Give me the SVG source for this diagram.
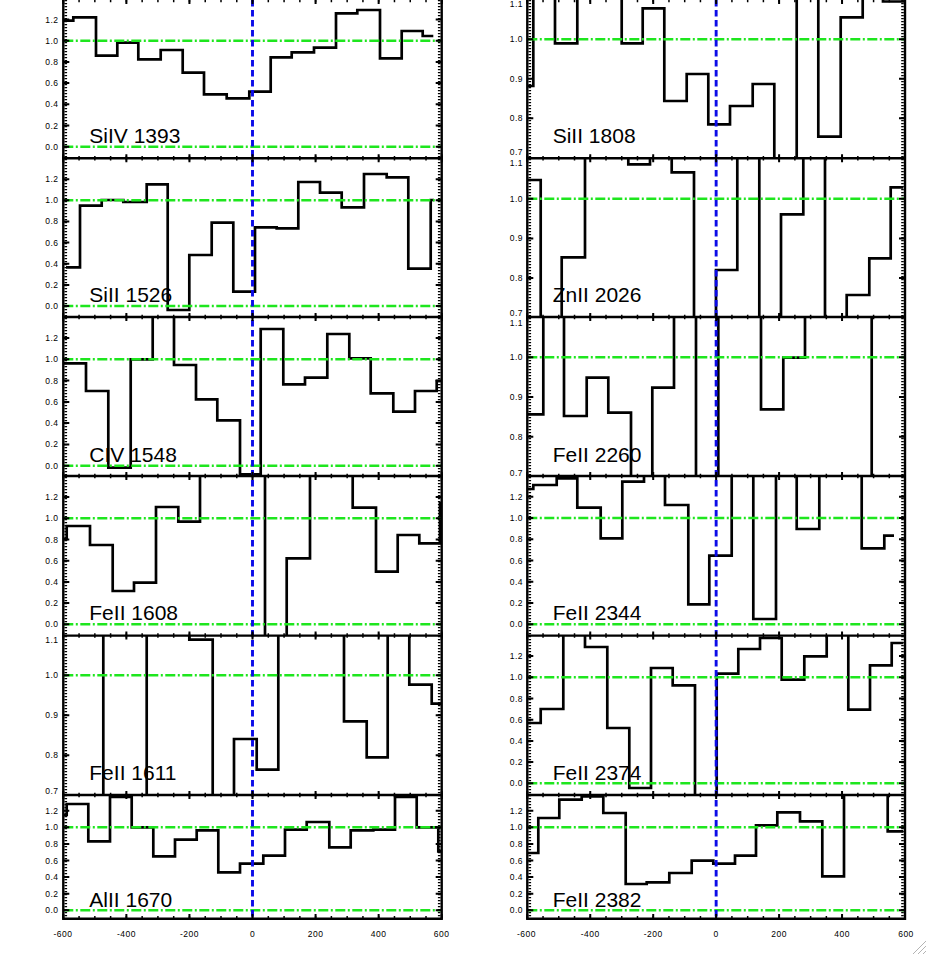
<svg xmlns="http://www.w3.org/2000/svg" width="927" height="955" viewBox="0 0 927 955">
<style>
.step{fill:none;stroke:#000;stroke-width:2.7}
.g{stroke:#1ee61e;stroke-width:2.5;stroke-dasharray:10 2.5 2 2.5}
.b{stroke:#0c0ce8;stroke-width:2.9;stroke-dasharray:6.5 3.5}
.fr{stroke:#000;stroke-width:2.4;fill:none}
.mj{stroke:#000;stroke-width:2;fill:none}
.lab{font-family:"Liberation Sans",Arial,Helvetica,sans-serif;font-size:21px;fill:#000}
.tl{font-family:"Liberation Sans",Arial,Helvetica,sans-serif;font-size:8.5px;text-anchor:end;letter-spacing:0.5px;fill:#000}
.xl{font-family:"Liberation Sans",Arial,Helvetica,sans-serif;font-size:8.5px;text-anchor:middle;letter-spacing:0.5px;fill:#000}
.lM{stroke:#000;stroke-width:8;stroke-dasharray:2 61.07}
.lm{stroke:#000;stroke-width:4.5;stroke-dasharray:1.5 14.27}
.rM{stroke:#000;stroke-width:8;stroke-dasharray:2 60.95}
.rm{stroke:#000;stroke-width:4.5;stroke-dasharray:1.5 14.24}
.ym{stroke:#000;stroke-width:2.6;stroke-dasharray:1.2 1.8}
</style>
<defs>
<clipPath id="cL1"><rect x="63.3" y="-5" width="378.4" height="163.3"/></clipPath>
<clipPath id="cL2"><rect x="63.3" y="158.3" width="378.4" height="158.7"/></clipPath>
<clipPath id="cL3"><rect x="63.3" y="317" width="378.4" height="159"/></clipPath>
<clipPath id="cL4"><rect x="63.3" y="476" width="378.4" height="159.6"/></clipPath>
<clipPath id="cL5"><rect x="63.3" y="635.6" width="378.4" height="159.4"/></clipPath>
<clipPath id="cL6"><rect x="63.3" y="795" width="378.4" height="123.8"/></clipPath>
<clipPath id="cR1"><rect x="527.3" y="-5" width="377.7" height="163.3"/></clipPath>
<clipPath id="cR2"><rect x="527.3" y="158.3" width="377.7" height="158.7"/></clipPath>
<clipPath id="cR3"><rect x="527.3" y="317" width="377.7" height="159"/></clipPath>
<clipPath id="cR4"><rect x="527.3" y="476" width="377.7" height="159.6"/></clipPath>
<clipPath id="cR5"><rect x="527.3" y="635.6" width="377.7" height="159.4"/></clipPath>
<clipPath id="cR6"><rect x="527.3" y="795" width="377.7" height="123.8"/></clipPath>
</defs>
<rect x="0" y="0" width="927" height="955" fill="#fff"/>

<g id="panel-SiIV-1393">
<path class="step" clip-path="url(#cL1)" d="M63.3,20.7 H73.3 V17.3 H96 V55.7 H117.3 V42.7 H138.3 V59.3 H160.7 V50 H182.7 V72.7 H204 V94.3 H226.7 V98.3 H249.3 V91.7 H270.7 V57.3 H291.7 V52.3 H314 V47.7 H336 V13.3 H357.3 V10 H380 V58.3 H401.7 V31 H422.7 V36 H433.3"/>
<text class="lab" x="89.3" y="143.3">SiIV 1393</text>
<line class="g" x1="63.3" y1="40.7" x2="441.7" y2="40.7"/>
<line class="g" x1="63.3" y1="146.7" x2="441.7" y2="146.7"/>
<path class="mj" d="M63.3,146.7h6M63.3,125.5h6M63.3,104.3h6M63.3,83.1h6M63.3,61.9h6M63.3,40.7h6M63.3,19.5h6M441.7,146.7h-6M441.7,125.5h-6M441.7,104.3h-6M441.7,83.1h-6M441.7,61.9h-6M441.7,40.7h-6M441.7,19.5h-6"/>
<text class="tl" x="58.5" y="149.7">0.0</text><text class="tl" x="58.5" y="128.5">0.2</text><text class="tl" x="58.5" y="107.3">0.4</text><text class="tl" x="58.5" y="86.1">0.6</text><text class="tl" x="58.5" y="64.9">0.8</text><text class="tl" x="58.5" y="43.7">1.0</text><text class="tl" x="58.5" y="22.5">1.2</text>
</g>

<g id="panel-SiII-1526">
<path class="step" clip-path="url(#cL2)" d="M66,267.3 H80 V205.7 H101.7 V200 H123.3 V202 H146.7 V184.3 H167.7 V310 H189.3 V255 H211.7 V222.7 H233.3 V291.7 H255 V227.3 H276.7 V228.3 H298.3 V182 H320 V192.7 H341.7 V207.3 H364 V174 H386.7 V177.3 H408.3 V268.7 H430.7 V200 H434"/>
<text class="lab" x="89.3" y="301.7">SiII 1526</text>
<line class="g" x1="63.3" y1="200.3" x2="441.7" y2="200.3"/>
<line class="g" x1="63.3" y1="306" x2="441.7" y2="306"/>
<path class="mj" d="M63.3,306h6M63.3,284.9h6M63.3,263.7h6M63.3,242.6h6M63.3,221.4h6M63.3,200.3h6M63.3,179.2h6M441.7,306h-6M441.7,284.9h-6M441.7,263.7h-6M441.7,242.6h-6M441.7,221.4h-6M441.7,200.3h-6M441.7,179.2h-6"/>
<text class="tl" x="58.5" y="309">0.0</text><text class="tl" x="58.5" y="287.9">0.2</text><text class="tl" x="58.5" y="266.7">0.4</text><text class="tl" x="58.5" y="245.6">0.6</text><text class="tl" x="58.5" y="224.4">0.8</text><text class="tl" x="58.5" y="203.3">1.0</text><text class="tl" x="58.5" y="182.2">1.2</text>
</g>

<g id="panel-CIV-1548">
<path class="step" clip-path="url(#cL3)" d="M63.3,363.3 H86 V391 H108.3 V467.7 H130.7 V359.3 H152.7 V300 H174 V365 H196 V399.3 H217.3 V420.3 H240 V474.3 H260.7 V329 H283.3 V384.3 H305 V377.7 H327.3 V334 H349.3 V358.3 H370.7 V393.3 H393.3 V411.7 H415 V391 H436.7 V381 H441.7"/>
<text class="lab" x="89.3" y="461.7">CIV 1548</text>
<line class="g" x1="63.3" y1="359.3" x2="441.7" y2="359.3"/>
<line class="g" x1="63.3" y1="465.7" x2="441.7" y2="465.7"/>
<path class="mj" d="M63.3,465.7h6M63.3,444.4h6M63.3,423.1h6M63.3,401.9h6M63.3,380.6h6M63.3,359.3h6M63.3,338h6M441.7,465.7h-6M441.7,444.4h-6M441.7,423.1h-6M441.7,401.9h-6M441.7,380.6h-6M441.7,359.3h-6M441.7,338h-6"/>
<text class="tl" x="58.5" y="468.7">0.0</text><text class="tl" x="58.5" y="447.4">0.2</text><text class="tl" x="58.5" y="426.1">0.4</text><text class="tl" x="58.5" y="404.9">0.6</text><text class="tl" x="58.5" y="383.6">0.8</text><text class="tl" x="58.5" y="362.3">1.0</text><text class="tl" x="58.5" y="341">1.2</text>
</g>

<g id="panel-FeII-1608">
<path class="step" clip-path="url(#cL4)" d="M63.3,539 H66.7 V526 H90 V545 H112.7 V591 H134 V582.7 H156 V507 H178.3 V521.7 H200 V450 H265 V660 H286.7 V558.3 H310 V450 H352.7 V507.7 H376 V571.7 H397.7 V535 H419.3 V543.3 H440 V502"/>
<text class="lab" x="89.3" y="620">FeII 1608</text>
<line class="g" x1="63.3" y1="518.3" x2="441.7" y2="518.3"/>
<line class="g" x1="63.3" y1="624.3" x2="441.7" y2="624.3"/>
<path class="mj" d="M63.3,624.3h6M63.3,603.1h6M63.3,581.9h6M63.3,560.7h6M63.3,539.5h6M63.3,518.3h6M63.3,497.1h6M441.7,624.3h-6M441.7,603.1h-6M441.7,581.9h-6M441.7,560.7h-6M441.7,539.5h-6M441.7,518.3h-6M441.7,497.1h-6"/>
<text class="tl" x="58.5" y="627.3">0.0</text><text class="tl" x="58.5" y="606.1">0.2</text><text class="tl" x="58.5" y="584.9">0.4</text><text class="tl" x="58.5" y="563.7">0.6</text><text class="tl" x="58.5" y="542.5">0.8</text><text class="tl" x="58.5" y="521.3">1.0</text><text class="tl" x="58.5" y="500.1">1.2</text>
</g>

<g id="panel-FeII-1611">
<path class="step" clip-path="url(#cL5)" d="M63.3,600 H103.3 V830 H146.7 V600 H189.3 V639.7 H212.7 V830 H234 V739 H256.7 V769.7 H278.3 V600 H344 V721.3 H366.7 V757.3 H387.7 V600 H409.3 V684.7 H431.7 V703.7 H441.7"/>
<text class="lab" x="89.3" y="780.3">FeII 1611</text>
<line class="g" x1="63.3" y1="675.3" x2="441.7" y2="675.3"/>
<path class="mj" d="M63.3,755.3h6M63.3,715.3h6M63.3,675.3h6M441.7,755.3h-6M441.7,715.3h-6M441.7,675.3h-6"/>
<text class="tl" x="58.5" y="794.3">0.7</text><text class="tl" x="58.5" y="758.3">0.8</text><text class="tl" x="58.5" y="718.3">0.9</text><text class="tl" x="58.5" y="678.3">1.0</text><text class="tl" x="58.5" y="643.3">1.1</text>
</g>

<g id="panel-AlII-1670">
<path class="step" clip-path="url(#cL6)" d="M63.3,815 H66.7 V804 H88.3 V841.3 H110 V797 H131.7 V827.3 H153.3 V856.3 H175 V839.7 H196.7 V830.3 H218.3 V872.3 H240 V863.7 H263.3 V855.7 H285 V829.7 H306.7 V822 H329.3 V847.3 H350.7 V830.3 H373.3 V829.7 H395 V797 H416.7 V827.3 H438.3 V851.3 H441.7"/>
<text class="lab" x="89.3" y="907">AlII 1670</text>
<line class="g" x1="63.3" y1="827.3" x2="441.7" y2="827.3"/>
<line class="g" x1="63.3" y1="910.3" x2="441.7" y2="910.3"/>
<path class="mj" d="M63.3,910.3h6M63.3,893.7h6M63.3,877.1h6M63.3,860.5h6M63.3,843.9h6M63.3,827.3h6M63.3,810.7h6M441.7,910.3h-6M441.7,893.7h-6M441.7,877.1h-6M441.7,860.5h-6M441.7,843.9h-6M441.7,827.3h-6M441.7,810.7h-6"/>
<text class="tl" x="58.5" y="913.3">0.0</text><text class="tl" x="58.5" y="896.7">0.2</text><text class="tl" x="58.5" y="880.1">0.4</text><text class="tl" x="58.5" y="863.5">0.6</text><text class="tl" x="58.5" y="846.9">0.8</text><text class="tl" x="58.5" y="830.3">1.0</text><text class="tl" x="58.5" y="813.7">1.2</text>
</g>

<g id="panel-SiII-1808">
<path class="step" clip-path="url(#cR1)" d="M527.3,86 H533.3 V-20 H555 V43.3 H577.3 V-20 H621.7 V43.3 H642.7 V8.3 H664.3 V101 H686.7 V74 H708.3 V124.3 H730 V106 H752.7 V84 H774.3 V180 H796.7 V-20 H818.3 V136.7 H840.7 V17.3 H862.7 V-20 H883 V1.5 H905"/>
<text class="lab" x="552.7" y="142.7">SiII 1808</text>
<line class="g" x1="527.3" y1="39.3" x2="905" y2="39.3"/>
<path class="mj" d="M527.3,39.3h6M527.3,78.8h6M527.3,118.3h6M905,39.3h-6M905,78.8h-6M905,118.3h-6"/>
<text class="tl" x="523" y="155.3">0.7</text><text class="tl" x="523" y="121.3">0.8</text><text class="tl" x="523" y="81.8">0.9</text><text class="tl" x="523" y="42.3">1.0</text><text class="tl" x="523" y="6.6">1.1</text>
</g>

<g id="panel-ZnII-2026">
<path class="step" clip-path="url(#cR2)" d="M527.3,180 H540.7 V340 H561.7 V257.3 H585 V140 H628.3 V164.3 H650 V140 H671.7 V172.3 H694 V340 H716 V270 H737.3 V140 H759.3 V340 H781 V214.3 H803.3 V140 H825 V340 H846.7 V295 H869.3 V258.3 H890.7 V187.3 H903.3"/>
<text class="lab" x="552.7" y="301.7">ZnII 2026</text>
<line class="g" x1="527.3" y1="198.7" x2="905" y2="198.7"/>
<path class="mj" d="M527.3,198.7h6M527.3,238.4h6M527.3,278.1h6M905,198.7h-6M905,238.4h-6M905,278.1h-6"/>
<text class="tl" x="523" y="316.2">0.7</text><text class="tl" x="523" y="281.1">0.8</text><text class="tl" x="523" y="241.4">0.9</text><text class="tl" x="523" y="201.7">1.0</text><text class="tl" x="523" y="166">1.1</text>
</g>

<g id="panel-FeII-2260">
<path class="step" clip-path="url(#cR3)" d="M527.3,414.3 H543.3 V300 H564 V416 H586.7 V377.7 H608.3 V412.7 H631 V500 H652.3 V387.7 H674 V300 H696 V500 H718.3 V300 H761 V409.3 H783.3 V357.7 H805 V300 H871.7 V500 H905"/>
<text class="lab" x="552.7" y="461.7">FeII 2260</text>
<line class="g" x1="527.3" y1="357.3" x2="905" y2="357.3"/>
<path class="mj" d="M527.3,357.3h6M527.3,397h6M527.3,436.7h6M905,357.3h-6M905,397h-6M905,436.7h-6"/>
<text class="tl" x="523" y="475.5">0.7</text><text class="tl" x="523" y="439.7">0.8</text><text class="tl" x="523" y="400">0.9</text><text class="tl" x="523" y="360.3">1.0</text><text class="tl" x="523" y="326">1.1</text>
</g>

<g id="panel-FeII-2344">
<path class="step" clip-path="url(#cR4)" d="M527.3,489 H533.3 V485 H556.7 V478.3 H577.3 V507.7 H600.7 V538.3 H622.3 V481.7 H644 V460 H665 V505 H688.3 V604.3 H709.3 V555.7 H731.7 V460 H753.3 V619 H776 V460 H796.7 V529 H819.3 V460 H861.7 V548.3 H884.3 V535.7 H894"/>
<text class="lab" x="552.7" y="620">FeII 2344</text>
<line class="g" x1="527.3" y1="518" x2="905" y2="518"/>
<line class="g" x1="527.3" y1="624.3" x2="905" y2="624.3"/>
<path class="mj" d="M527.3,624.3h6M527.3,603h6M527.3,581.8h6M527.3,560.5h6M527.3,539.3h6M527.3,518h6M527.3,496.7h6M905,624.3h-6M905,603h-6M905,581.8h-6M905,560.5h-6M905,539.3h-6M905,518h-6M905,496.7h-6"/>
<text class="tl" x="523" y="627.3">0.0</text><text class="tl" x="523" y="606">0.2</text><text class="tl" x="523" y="584.8">0.4</text><text class="tl" x="523" y="563.5">0.6</text><text class="tl" x="523" y="542.3">0.8</text><text class="tl" x="523" y="521">1.0</text><text class="tl" x="523" y="499.7">1.2</text>
</g>

<g id="panel-FeII-2374">
<path class="step" clip-path="url(#cR5)" d="M527.3,723 H540.7 V709 H563.3 V620 H585 V647 H607.3 V728 H629.3 V788 H651 V668 H672.7 V685.3 H695 V820 H716.7 V673.7 H738.3 V649 H760 V638 H781.7 V679.7 H804.3 V656.3 H826.7 V620 H848.3 V709.7 H870 V665.3 H891.7 V643 H903.3"/>
<text class="lab" x="552.7" y="780.3">FeII 2374</text>
<line class="g" x1="527.3" y1="677.3" x2="905" y2="677.3"/>
<line class="g" x1="527.3" y1="783.3" x2="905" y2="783.3"/>
<path class="mj" d="M527.3,783.3h6M527.3,762.1h6M527.3,740.9h6M527.3,719.7h6M527.3,698.5h6M527.3,677.3h6M527.3,656.1h6M905,783.3h-6M905,762.1h-6M905,740.9h-6M905,719.7h-6M905,698.5h-6M905,677.3h-6M905,656.1h-6"/>
<text class="tl" x="523" y="786.3">0.0</text><text class="tl" x="523" y="765.1">0.2</text><text class="tl" x="523" y="743.9">0.4</text><text class="tl" x="523" y="722.7">0.6</text><text class="tl" x="523" y="701.5">0.8</text><text class="tl" x="523" y="680.3">1.0</text><text class="tl" x="523" y="659.1">1.2</text>
</g>

<g id="panel-FeII-2382">
<path class="step" clip-path="url(#cR6)" d="M527.3,853 H538.3 V818 H559.3 V799.7 H581.7 V796.5 H603.3 V813 H625.7 V884 H646.7 V882.3 H669.3 V873 H691.7 V860.7 H713.3 V863.7 H735 V855.7 H756 V825.3 H777.3 V812.3 H800 V821.3 H822.3 V876.3 H844 V780 H887.7 V831.3 H903.3"/>
<text class="lab" x="552.7" y="907">FeII 2382</text>
<line class="g" x1="527.3" y1="827.3" x2="905" y2="827.3"/>
<line class="g" x1="527.3" y1="910.3" x2="905" y2="910.3"/>
<path class="mj" d="M527.3,910.3h6M527.3,893.7h6M527.3,877.1h6M527.3,860.5h6M527.3,843.9h6M527.3,827.3h6M527.3,810.7h6M905,910.3h-6M905,893.7h-6M905,877.1h-6M905,860.5h-6M905,843.9h-6M905,827.3h-6M905,810.7h-6"/>
<text class="tl" x="523" y="913.3">0.0</text><text class="tl" x="523" y="896.7">0.2</text><text class="tl" x="523" y="880.1">0.4</text><text class="tl" x="523" y="863.5">0.6</text><text class="tl" x="523" y="846.9">0.8</text><text class="tl" x="523" y="830.3">1.0</text><text class="tl" x="523" y="813.7">1.2</text>
</g>

<g id="connectors">
<line class="b" x1="252.5" y1="0" x2="252.5" y2="918"/>
<line class="b" x1="716.15" y1="0" x2="716.15" y2="918"/>
</g>

<g id="axes">
<path class="fr" d="M63.3,0V920M441.7,0V920M527.3,0V920M905,0V920M62.1,158.3H442.9M62.1,317H442.9M62.1,476H442.9M62.1,635.6H442.9M62.1,795H442.9M62.1,918.8H442.9M526.1,158.3H906.2M526.1,317H906.2M526.1,476H906.2M526.1,635.6H906.2M526.1,795H906.2M526.1,918.8H906.2"/>
<line class="ym" x1="65.8" y1="0" x2="65.8" y2="918"/>
<line class="ym" x1="439.2" y1="0" x2="439.2" y2="918"/>
<line class="ym" x1="529.8" y1="0" x2="529.8" y2="918"/>
<line class="ym" x1="902.5" y1="0" x2="902.5" y2="918"/>
<line class="lM" x1="62.3" y1="0" x2="442.7" y2="0"/><line class="lm" x1="62.55" y1="0" x2="442.5" y2="0"/>
<line class="lM" x1="62.3" y1="158.3" x2="442.7" y2="158.3"/><line class="lm" x1="62.55" y1="158.3" x2="442.5" y2="158.3"/>
<line class="lM" x1="62.3" y1="317" x2="442.7" y2="317"/><line class="lm" x1="62.55" y1="317" x2="442.5" y2="317"/>
<line class="lM" x1="62.3" y1="476" x2="442.7" y2="476"/><line class="lm" x1="62.55" y1="476" x2="442.5" y2="476"/>
<line class="lM" x1="62.3" y1="635.6" x2="442.7" y2="635.6"/><line class="lm" x1="62.55" y1="635.6" x2="442.5" y2="635.6"/>
<line class="lM" x1="62.3" y1="795" x2="442.7" y2="795"/><line class="lm" x1="62.55" y1="795" x2="442.5" y2="795"/>
<line class="lM" x1="62.3" y1="916.4" x2="442.7" y2="916.4" style="stroke-width:4.8"/><line class="lm" x1="62.55" y1="917.4" x2="442.5" y2="917.4" style="stroke-width:2.8"/>
<line class="rM" x1="526.3" y1="0" x2="906" y2="0"/><line class="rm" x1="526.55" y1="0" x2="905.8" y2="0"/>
<line class="rM" x1="526.3" y1="158.3" x2="906" y2="158.3"/><line class="rm" x1="526.55" y1="158.3" x2="905.8" y2="158.3"/>
<line class="rM" x1="526.3" y1="317" x2="906" y2="317"/><line class="rm" x1="526.55" y1="317" x2="905.8" y2="317"/>
<line class="rM" x1="526.3" y1="476" x2="906" y2="476"/><line class="rm" x1="526.55" y1="476" x2="905.8" y2="476"/>
<line class="rM" x1="526.3" y1="635.6" x2="906" y2="635.6"/><line class="rm" x1="526.55" y1="635.6" x2="905.8" y2="635.6"/>
<line class="rM" x1="526.3" y1="795" x2="906" y2="795"/><line class="rm" x1="526.55" y1="795" x2="905.8" y2="795"/>
<line class="rM" x1="526.3" y1="916.4" x2="906" y2="916.4" style="stroke-width:4.8"/><line class="rm" x1="526.55" y1="917.4" x2="905.8" y2="917.4" style="stroke-width:2.8"/>
</g>

<g id="x-labels">
<text class="xl" x="63" y="936.5">-600</text><text class="xl" x="126.4" y="936.5">-400</text><text class="xl" x="189.4" y="936.5">-200</text><text class="xl" x="252.5" y="936.5">0</text><text class="xl" x="315.6" y="936.5">200</text><text class="xl" x="378.6" y="936.5">400</text><text class="xl" x="441.7" y="936.5">600</text>
<text class="xl" x="526.5" y="936.5">-600</text><text class="xl" x="590.2" y="936.5">-400</text><text class="xl" x="653.2" y="936.5">-200</text><text class="xl" x="716.2" y="936.5">0</text><text class="xl" x="779.1" y="936.5">200</text><text class="xl" x="842.1" y="936.5">400</text><text class="xl" x="906" y="936.5">600</text>
</g>

<g id="window-grip">
<path d="M913,954L926,941M918,954L926,946M923,954L926,951" stroke="#b4b4b4" stroke-width="1" fill="none"/>
</g>
</svg>
